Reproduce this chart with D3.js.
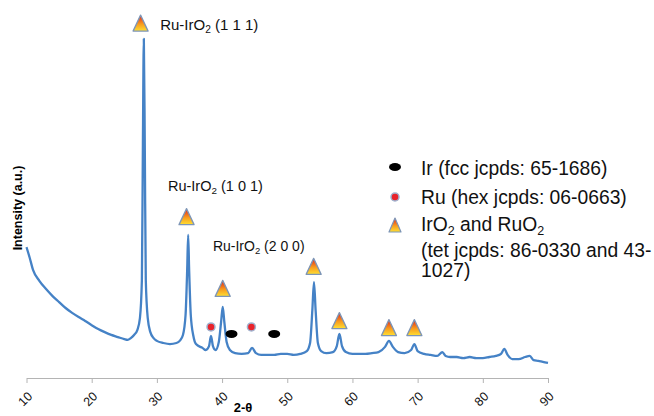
<!DOCTYPE html>
<html>
<head>
<meta charset="utf-8">
<script src="https://cdn.jsdelivr.net/npm/d3@7"></script>
<style>
  body { margin: 0; background: #fff; }
  svg { display: block; font-family: "Liberation Sans", Arial, sans-serif; }
</style>
</head>
<body>
<svg id="xrd-svg" width="654" height="416"></svg>
<script>
// XRD pattern (2-theta in degrees, intensity in a.u.)
var twoTheta = [10, 10.5, 11, 12, 13, 14, 15, 16, 17, 18, 19, 20, 21, 22, 23, 24, 25, 25.5, 26, 26.5, 27,
  27.4, 27.7, 27.85, 28, 28.15, 28.3, 28.6, 29, 29.5, 30, 31, 32, 33, 33.5, 34, 34.4, 34.65, 34.8, 34.95,
  35.2, 35.6, 36, 37, 37.5, 38, 38.3, 38.6, 39, 39.5, 39.85, 40.1, 40.35, 40.7, 41.2, 42, 43, 44, 44.6,
  45.2, 46, 47, 48, 49, 50, 51, 52, 53, 53.5, 53.85, 54.1, 54.35, 54.7, 55.2, 56, 57, 57.6, 58, 58.4, 59,
  60, 61, 62, 63, 64, 65, 65.6, 66.2, 67, 68, 69, 69.5, 70, 71, 72, 73, 73.8, 74.3, 75, 76, 77, 78, 79,
  80, 81, 82, 82.8, 83.3, 83.8, 84.5, 85.5, 86.5, 87.2, 87.8, 88.5, 89.2, 90];
var intensity = [374, 343, 309, 277, 254, 234, 217, 200, 186, 174, 163, 151, 140, 131, 123, 117, 111, 109, 114, 123, 137,
  171, 280, 651, 969, 651, 280, 171, 131, 114, 106, 100, 97, 100, 106, 123, 180, 309, 409, 309,
  180, 120, 97, 86, 80, 91, 120, 91, 80, 103, 160, 203, 160, 103, 80, 71, 69, 71, 86,
  71, 66, 66, 66, 69, 69, 66, 69, 77, 100, 194, 274, 194, 100, 77, 71, 74, 91, 126, 91, 74,
  69, 69, 69, 71, 74, 89, 106, 89, 74, 71, 80, 97, 77, 69, 66, 63, 74, 63, 60, 60, 57, 60, 57,
  57, 60, 63, 69, 83, 66, 54, 54, 60, 63, 51, 49, 46, 43];

// phase markers (position, height)
var oxidePeaks = [27.5, 34.55, 40.1, 54.05, 58.0, 65.6, 69.5];
var oxideLevels = [1014, 461, 256, 319, 164, 144, 144];
var ruPeaks = [38.3, 44.5];
var ruLevels = [146, 146];
var irPeaks = [41.45, 48.0];
var irLevels = [126, 126];

// peak annotations
var hklLabels = ["(1 1 1)", "(1 0 1)", "(2 0 0)"];
var hklX = [30.5, 31.7, 38.6];
var hklY = [994, 534, 363];
var hklSize = [15, 14.5, 14];

var xTicks = [10, 20, 30, 40, 50, 60, 70, 80, 90];

var svg = d3.select("#xrd-svg");

var x = d3.scaleLinear().domain([10, 90]).range([26.5, 548]);
var y = d3.scaleLinear().domain([0, 1000]).range([378, 28]);

// gradient for the triangles
var grad = svg.append("defs").append("linearGradient")
  .attr("id", "triGrad").attr("x1", 0).attr("y1", 0).attr("x2", 0).attr("y2", 1);
grad.append("stop").attr("offset", "0%").attr("stop-color", "#e0201c");
grad.append("stop").attr("offset", "55%").attr("stop-color", "#f79a1e");
grad.append("stop").attr("offset", "100%").attr("stop-color", "#ffe033");

// x axis
var xAxis = svg.append("g")
  .attr("transform", "translate(0,378)")
  .call(d3.axisBottom(x).tickValues(xTicks).tickSize(5).tickSizeOuter(0));
xAxis.select(".domain").attr("stroke", "#b4b4b4");
xAxis.selectAll(".tick line").attr("stroke", "#b4b4b4");
xAxis.selectAll(".tick text")
  .attr("font-size", 12.5)
  .attr("fill", "#111")
  .attr("text-anchor", "end")
  .attr("x", 0).attr("y", 0).attr("dy", "0.35em")
  .attr("transform", "translate(3,16) rotate(-45)");

svg.append("text")
  .attr("x", 243).attr("y", 412)
  .attr("text-anchor", "middle")
  .attr("font-size", 13).attr("font-weight", "bold")
  .text("2-θ");

svg.append("text")
  .attr("transform", "translate(22,208) rotate(-90)")
  .attr("text-anchor", "middle")
  .attr("font-size", 12.5).attr("font-weight", "bold")
  .text("Intensity (a.u.)");

// the pattern
var line = d3.line()
  .x(function(d, i) { return x(twoTheta[i]); })
  .y(function(d) { return y(d); })
  .curve(d3.curveMonotoneX);

svg.append("path")
  .attr("d", line(intensity))
  .attr("fill", "none")
  .attr("stroke", "#4582c6")
  .attr("stroke-width", 2.3)
  .attr("stroke-linejoin", "round");

// markers
function triangle(cx, cy, w, h) {
  return "M" + cx + "," + (cy - h / 2) + "L" + (cx + w / 2) + "," + (cy + h / 2) + "L" + (cx - w / 2) + "," + (cy + h / 2) + "Z";
}

svg.selectAll(".oxide").data(oxidePeaks).enter().append("path")
  .attr("class", "oxide")
  .attr("d", function(d, i) { return triangle(x(d), y(oxideLevels[i]), 15, 16); })
  .attr("fill", "url(#triGrad)")
  .attr("stroke", "#7d95b6").attr("stroke-width", 1.3)
  .attr("stroke-linejoin", "round");

svg.selectAll(".ru").data(ruPeaks).enter().append("circle")
  .attr("class", "ru")
  .attr("cx", function(d) { return x(d); })
  .attr("cy", function(d, i) { return y(ruLevels[i]); })
  .attr("r", 4)
  .attr("fill", "#e8232b")
  .attr("stroke", "#9fb2cf").attr("stroke-width", 1.5);

svg.selectAll(".ir").data(irPeaks).enter().append("ellipse")
  .attr("class", "ir")
  .attr("cx", function(d) { return x(d); })
  .attr("cy", function(d, i) { return y(irLevels[i]); })
  .attr("rx", 6).attr("ry", 4)
  .attr("fill", "#000");

// hkl labels
hklLabels.forEach(function(lab, i) {
  var t = svg.append("text")
    .attr("x", x(hklX[i])).attr("y", y(hklY[i]))
    .attr("font-size", hklSize[i]).attr("fill", "#111");
  t.append("tspan").text("Ru-IrO");
  t.append("tspan").attr("font-size", hklSize[i] * 0.68).attr("dy", 3).text("2");
  t.append("tspan").attr("dy", -3).text(" " + lab);
});

// legend
var legend = svg.append("g").attr("font-size", 19.3).attr("fill", "#111");
legend.append("ellipse").attr("cx", 395).attr("cy", 167).attr("rx", 6).attr("ry", 4).attr("fill", "#000");
legend.append("text").attr("x", 421).attr("y", 175).text("Ir (fcc jcpds: 65-1686)");

legend.append("circle").attr("cx", 395).attr("cy", 197).attr("r", 4)
  .attr("fill", "#e8232b").attr("stroke", "#9fb2cf").attr("stroke-width", 1.5);
legend.append("text").attr("x", 421).attr("y", 204).text("Ru (hex jcpds: 06-0663)");

legend.append("path").attr("d", triangle(395, 225, 12, 14))
  .attr("fill", "url(#triGrad)").attr("stroke", "#7d95b6").attr("stroke-width", 1.2)
  .attr("stroke-linejoin", "round");
var l3 = legend.append("text").attr("x", 421).attr("y", 231);
l3.append("tspan").text("IrO");
l3.append("tspan").attr("font-size", 12.5).attr("dy", 4).text("2");
l3.append("tspan").attr("dy", -4).text(" and RuO");
l3.append("tspan").attr("font-size", 12.5).attr("dy", 4).text("2");
legend.append("text").attr("x", 421).attr("y", 257).text("(tet jcpds: 86-0330 and 43-");
legend.append("text").attr("x", 421).attr("y", 277).text("1027)");
</script>
</body>
</html>
